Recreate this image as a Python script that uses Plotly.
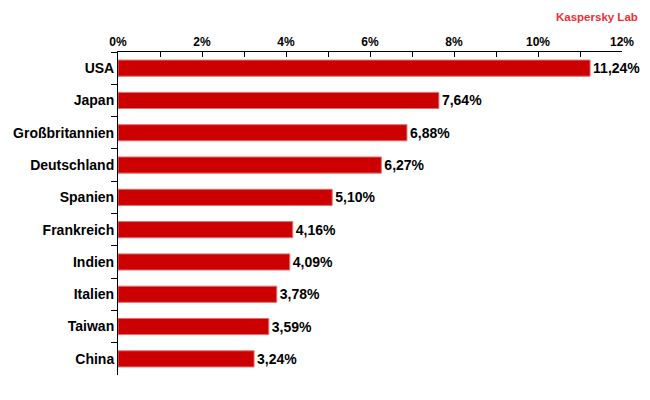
import plotly.graph_objects as go

# Anteil der Länder (in %)
countries = ["USA", "Japan", "Großbritannien", "Deutschland", "Spanien",
             "Frankreich", "Indien", "Italien", "Taiwan", "China"]
shares = [11.24, 7.64, 6.88, 6.27, 5.10, 4.16, 4.09, 3.78, 3.59, 3.24]
labels = [f"{v:.2f}%".replace(".", ",") for v in shares]

font = "Liberation Sans, Arial, sans-serif"

fig = go.Figure(
    go.Bar(
        x=shares,
        y=countries,
        orientation="h",
        width=0.5,
        marker=dict(color="#CC0000", line=dict(color="#E07070", width=1)),
        text=labels,
        texttemplate="<b>%{text}</b>",
        textposition="outside",
        cliponaxis=False,
        textfont=dict(family=font, size=14, color="black"),
    )
)

fig.update_xaxes(
    side="top",
    range=[0, 12],
    dtick=2,
    tickprefix="<b>",
    ticksuffix="%</b>",
    ticks="inside",
    ticklen=5,
    tickcolor="black",
    showline=True,
    linecolor="black",
    linewidth=1,
    showgrid=False,
    zeroline=False,
    automargin=False,
    minor=dict(dtick=1, ticks="inside", ticklen=5, tickcolor="black"),
    tickfont=dict(family=font, size=12, color="black"),
)

fig.update_yaxes(
    autorange="reversed",
    tickprefix="<b>",
    ticksuffix="</b>",
    ticks="outside",
    tickson="boundaries",
    ticklen=6,
    tickcolor="black",
    showline=True,
    linecolor="black",
    linewidth=1,
    showgrid=False,
    automargin=False,
    tickfont=dict(family=font, size=14, color="black"),
)

fig.add_annotation(
    text="<b>Kaspersky Lab</b>",
    xref="paper", yref="paper",
    x=1.036, y=1.134,
    xanchor="right", yanchor="top",
    showarrow=False,
    font=dict(family=font, size=11.5, color="#E8303A"),
)

# the page body adds an 8px margin, so the figure is sized to fit the window
fig.update_layout(
    width=642,
    height=392,
    margin=dict(l=110, r=28, t=44, b=25),
    plot_bgcolor="white",
    paper_bgcolor="white",
    showlegend=False,
    font=dict(family=font, color="black"),
)

fig.write_html("out.html")
